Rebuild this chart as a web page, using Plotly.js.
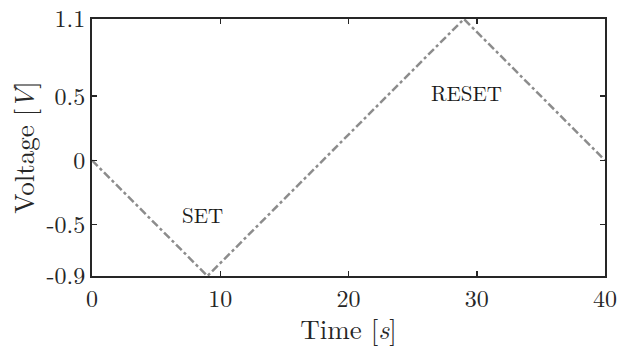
<!DOCTYPE html>
<html><head><meta charset="utf-8">
<script src="https://cdn.plot.ly/plotly-3.0.1.min.js"></script>
<style>body{margin:0;background:#fff}#c{width:618px;height:347px}</style>
</head><body><div id="c"></div>
<script>
const timeS = [0, 9, 29, 40];
const voltageV = [0, -0.9, 1.1, 0];
const xTicks = [0, 10, 20, 30, 40];
const yTicks = [-0.9, -0.5, 0, 0.5, 1.1];
const yTickLabels = ['-0.9', '-0.5', '0', '0.5', '1.1'];
const labels = [{text: 'SET', x: 8.6, y: -0.42}, {text: 'RESET', x: 29.2, y: 0.53}];

const font = 'Latin Modern Roman, CMU Serif, DejaVu Serif, serif';
const axisCommon = {
  showgrid: false, zeroline: false, showline: true, linecolor: '#262626', linewidth: 2,
  mirror: 'ticks', ticks: 'inside', ticklen: 5, tickwidth: 1.5, tickcolor: '#262626',
  tickfont: {family: font, size: 24, color: '#262626'}
};
Plotly.newPlot('c', [{
  x: timeS, y: voltageV, mode: 'lines', type: 'scatter',
  line: {color: '#8c8c8c', width: 2.5, dash: '8px,3px,3px,3px'}, cliponaxis: false
}], {
  width: 618, height: 347,
  margin: {l: 92, r: 13, t: 19, b: 71},
  paper_bgcolor: '#fff', plot_bgcolor: '#fff',
  showlegend: false,
  xaxis: Object.assign({}, axisCommon, {range: [0, 40], tickvals: xTicks,
    title: {text: 'Time [<i>s</i>]', font: {family: font, size: 27, color: '#262626'}, standoff: 2}}),
  yaxis: Object.assign({}, axisCommon, {range: [-0.9, 1.1], tickvals: yTicks, ticktext: yTickLabels,
    title: {text: 'Voltage [<i>V</i>]', font: {family: font, size: 27, color: '#262626'}, standoff: 4}}),
  annotations: labels.map(l => ({x: l.x, y: l.y, text: l.text, showarrow: false,
    font: {family: font, size: 21, color: '#1a1a1a'}}))
}, {staticPlot: true});
</script></body></html>
